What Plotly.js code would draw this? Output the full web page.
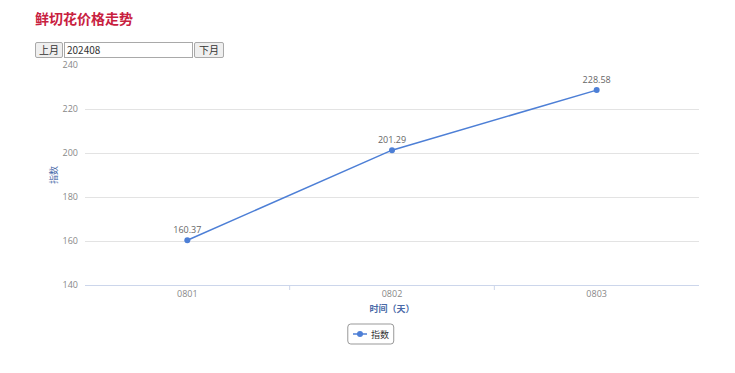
<!DOCTYPE html>
<html>
<head>
<meta charset="utf-8">
<script src="https://cdn.plot.ly/plotly-3.0.1.min.js"></script>
<style>
  html, body { margin: 0; padding: 0; background: #fff; width: 735px; height: 373px; overflow: hidden; }
  #chart { position: absolute; left: 0; top: 0; width: 735px; height: 373px; }
  #head { position: absolute; left: 35px; top: 8px; font-family: "Noto Sans CJK SC", sans-serif;
          font-size: 14px; font-weight: bold; color: #c8213f; z-index: 2; }
  .ctl { position: absolute; top: 42px; height: 16px; box-sizing: border-box; z-index: 2;
         font-family: "Noto Sans CJK SC", sans-serif; font-size: 10px; line-height: 14px; color: #333; }
  .btn { background: #efefef; border: 1px solid #a9a9a9; border-radius: 2px; text-align: center; }
  #prev { left: 35px; width: 28px; }
  #month { left: 64px; width: 129px; background: #fff; border: 1px solid #a9a9a9; padding-left: 2px; }
  #next { left: 194px; width: 30px; }
</style>
</head>
<body>
<div id="head">鲜切花价格走势</div>
<div class="ctl btn" id="prev">上月</div>
<div class="ctl" id="month">202408</div>
<div class="ctl btn" id="next">下月</div>
<div id="chart"></div>
<script>
// daily index values for the selected month
const days = ['0801', '0802', '0803'];
const indexValues = [160.37, 201.29, 228.58];
const yTicks = [140, 160, 180, 200, 220, 240];
const seriesName = '指数';

const lineColor = '#4d7fd6';
const numFont = '"Open Sans", "Noto Sans CJK SC", sans-serif';

const trace = {
  type: 'scatter',
  mode: 'lines+markers+text',
  name: seriesName,
  x: days,
  y: indexValues,
  text: indexValues.map(v => v.toFixed(2)),
  textposition: 'top center',
  textfont: { family: numFont, size: 9, color: '#666' },
  line: { color: lineColor, width: 1.5 },
  marker: { color: lineColor, size: 6 },
  cliponaxis: false,
  hoverinfo: 'x+y'
};

// rounded frame drawn behind the legend (paper coordinates)
const plotW = 735 - 85 - 35.5, plotH = 373 - 65 - 88;
const px = v => (v - 85) / plotW;
const py = v => (285 - v) / plotH;
const r = 3;
const bx0 = 348, bx1 = 394, by0 = 324, by1 = 344;
const rx = r / plotW, ry = r / plotH;
const legendFrame = {
  type: 'path', xref: 'paper', yref: 'paper', layer: 'below',
  path: `M ${px(bx0) + rx},${py(by0)} L ${px(bx1) - rx},${py(by0)} Q ${px(bx1)},${py(by0)} ${px(bx1)},${py(by0) - ry} ` +
        `L ${px(bx1)},${py(by1) + ry} Q ${px(bx1)},${py(by1)} ${px(bx1) - rx},${py(by1)} ` +
        `L ${px(bx0) + rx},${py(by1)} Q ${px(bx0)},${py(by1)} ${px(bx0)},${py(by1) + ry} ` +
        `L ${px(bx0)},${py(by0) - ry} Q ${px(bx0)},${py(by0)} ${px(bx0) + rx},${py(by0)} Z`,
  line: { color: '#999', width: 1 },
  fillcolor: 'rgba(0,0,0,0)'
};

// small tick marks between categories
const tickMarks = [0.5, 1.5].map(c => ({
  type: 'line', xref: 'x', yref: 'paper', x0: c, x1: c, y0: 0, y1: -5 / plotH,
  line: { color: '#ccd6eb', width: 1 }
}));

const layout = {
  width: 735, height: 373,
  margin: { l: 85, r: 35.5, t: 65, b: 88, pad: 0 },
  paper_bgcolor: '#fff', plot_bgcolor: '#fff',
  font: { family: numFont, size: 9, color: '#666' },
  showlegend: true,
  xaxis: {
    type: 'category',
    range: [-0.5, 2.5],
    showgrid: false,
    showline: true, linecolor: '#ccd6eb', linewidth: 1,
    ticks: '', ticklen: 0,
    tickfont: { family: numFont, size: 9, color: '#888' },
    zeroline: false,
    title: { text: '<b>时间（天）</b>', font: { family: '"Noto Sans CJK SC", sans-serif', size: 9, color: '#4a6aa8' }, standoff: 6 },
    fixedrange: true
  },
  yaxis: {
    range: [140, 240],
    tickvals: yTicks,
    ticktext: yTicks.map(String),
    showgrid: true, gridcolor: '#e3e3e3', gridwidth: 1,
    zeroline: false, showline: false, ticks: '',
    ticklabelstandoff: 6,
    tickfont: { family: numFont, size: 9, color: '#888' },
    title: { text: '指数', font: { family: '"Noto Sans CJK SC", sans-serif', size: 9, color: '#4a6aa8' }, standoff: 3 },
    fixedrange: true
  },
  legend: {
    orientation: 'h',
    x: px(371), xanchor: 'center',
    y: py(334), yanchor: 'middle',
    bgcolor: 'rgba(0,0,0,0)', borderwidth: 0,
    font: { family: '"Noto Sans CJK SC", sans-serif', size: 9, color: '#333' },
    itemwidth: 30
  },
  shapes: [legendFrame, ...tickMarks]
};

Plotly.newPlot('chart', [trace], layout, { displayModeBar: false, staticPlot: true }).then(gd => {
  // compact legend symbol: shorter line with the marker centred on it,
  // then slide the legend so its label sits inside the rounded frame
  const leg = gd.querySelector('.legend');
  if (!leg) return;
  const linePath = leg.querySelector('.legendlines path');
  if (linePath) linePath.setAttribute('d', 'M22,0h14');
  const pt = leg.querySelector('.legendpoints path');
  if (pt) pt.setAttribute('transform', 'translate(29,0)');
  const txt = leg.querySelector('.legendtext');
  if (txt) {
    const dx = 371 - txt.getBoundingClientRect().left;
    const m = /translate\(([-\d.]+)[ ,]+([-\d.]+)\)/.exec(leg.getAttribute('transform') || '');
    if (m) leg.setAttribute('transform', `translate(${parseFloat(m[1]) + dx},${m[2]})`);
  }
});
</script>
</body>
</html>
